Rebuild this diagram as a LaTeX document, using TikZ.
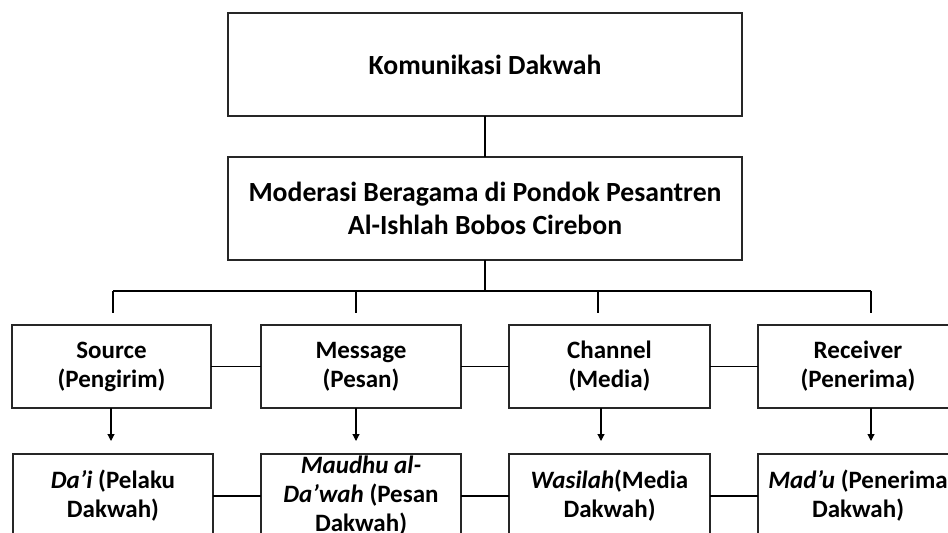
\documentclass[tikz,border=0pt]{standalone}
\usepackage{fontspec}
\setmainfont{Carlito}
\usetikzlibrary{arrows.meta,calc}
\begin{document}
\begin{tikzpicture}[x=1bp,y=-1bp,
  box/.style={draw=black!85,line width=1.3bp,inner sep=0pt,outer sep=0pt,anchor=north west,align=center,font=\bfseries},
  bigfont/.style={font=\fontsize{27.7bp}{33bp}\selectfont\bfseries},
  rowfont/.style={font=\fontsize{25bp}{29bp}\selectfont\bfseries},
  link/.style={draw=black,line width=1.1bp},
  arr/.style={draw=black,line width=1.1bp,-{Triangle[length=7bp,width=7bp]}}
]
\useasboundingbox (0,0) rectangle (948,533);
% top boxes
\node[box,bigfont,minimum width=514bp,minimum height=103bp] (kom) at (228,13) {Komunikasi Dakwah};
\node[box,bigfont,minimum width=514bp,minimum height=103bp] (mod) at (228,157) {Moderasi Beragama di Pondok Pesantren\\Al-Ishlah Bobos Cirebon};
% row boxes
\node[box,rowfont,minimum width=199bp,minimum height=83bp] (src) at (12,325) {Source\\(Pengirim)};
\node[box,rowfont,minimum width=200bp,minimum height=83bp] (msg) at (261,325) {Message\\(Pesan)};
\node[box,rowfont,minimum width=201bp,minimum height=83bp] (chn) at (509,325) {Channel\\(Media)};
\node[box,rowfont,minimum width=200bp,minimum height=83bp] (rcv) at (758,325) {Receiver\\(Penerima)};
% bottom boxes
\node[box,rowfont,minimum width=200bp,minimum height=84bp] (dai) at (13,454) {\textit{Da’i} (Pelaku\\Dakwah)};
\node[box,rowfont,minimum width=200bp,minimum height=84bp] (mau) at (261,454) {\textit{Maudhu al-}\\\textit{Da’wah} (Pesan\\Dakwah)};
\node[box,rowfont,minimum width=201bp,minimum height=84bp] (was) at (509,454) {\textit{Wasilah}(Media\\Dakwah)};
\node[box,rowfont,minimum width=200bp,minimum height=84bp] (mad) at (758,454) {\textit{Mad’u} (Penerima\\Dakwah)};
% bus coordinates
\coordinate (bus) at (484,291);
\coordinate (d1) at (113,313);
\coordinate (d2) at (356,313);
\coordinate (d3) at (598,313);
\coordinate (d4) at (871,313);
\coordinate (a1) at (111,441);
\coordinate (a2) at (356,441);
\coordinate (a3) at (601,441);
\coordinate (a4) at (871,441);
% connectors
\draw[link] (kom.south) -- (mod.north);
\draw[link] (mod.south) -- (mod.south |- bus);
\draw[link] (d1 |- bus) -- (d4 |- bus);
\foreach \d in {d1,d2,d3,d4}{\draw[link] (\d |- bus) -- (\d);}
\draw[link] (src.east) -- (msg.west);
\draw[link] (msg.east) -- (chn.west);
\draw[link] (chn.east) -- (rcv.west);
\draw[link] (dai.east) -- (mau.west);
\draw[link] (mau.east) -- (was.west);
\draw[link] (was.east) -- (mad.west);
\draw[arr] (src.south -| a1) -- (a1);
\draw[arr] (msg.south -| a2) -- (a2);
\draw[arr] (chn.south -| a3) -- (a3);
\draw[arr] (rcv.south -| a4) -- (a4);
\end{tikzpicture}
\end{document}
